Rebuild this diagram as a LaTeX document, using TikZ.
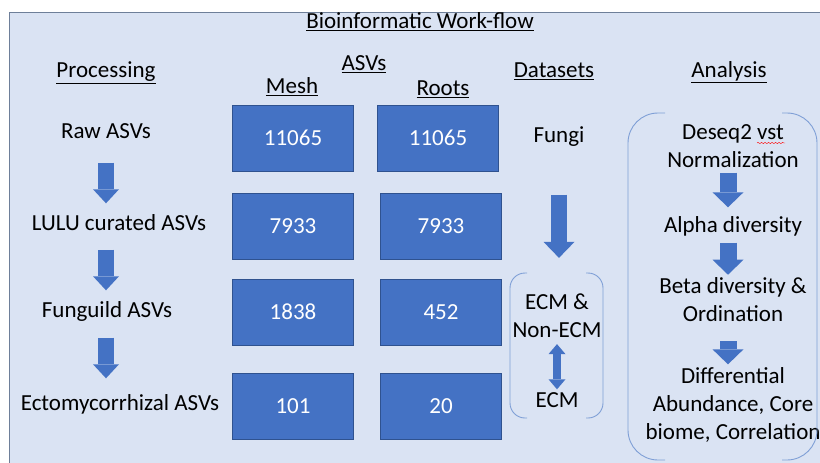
\documentclass[tikz,border=0pt]{standalone}
\usepackage{fontspec}
\setmainfont{Carlito}
\usetikzlibrary{arrows.meta, decorations.pathmorphing}

\definecolor{panelbg}{HTML}{DAE3F3}
\definecolor{panelline}{HTML}{6E7F99}
\definecolor{boxblue}{HTML}{4472C4}
\definecolor{boxline}{HTML}{2F528F}
\definecolor{bracketblue}{HTML}{7F9FD6}

\begin{document}
\begin{tikzpicture}[x=1pt, y=-1pt, font=\fontsize{23}{28}\selectfont,
    lbl/.style={inner sep=0pt, text height=16pt, text depth=5pt},
    multilbl/.style={inner sep=0pt, align=center},
    countbox/.style={draw=boxline, fill=boxblue, text=white, minimum width=121pt, minimum height=66pt, inner sep=0pt},
    procarrow/.style={draw=boxblue, line width=16pt, -{Triangle[width=26pt 0 0, length=14pt 0 0, line width=0pt]}},
    anaarrow/.style={draw=boxblue, line width=17pt, -{Triangle[width=31pt 0 0, length=15pt 0 0, line width=0pt]}},
    swaparrow/.style={draw=boxblue, line width=8pt, {Triangle[width=17pt 0 0, length=10pt 0 0, line width=0pt]}-{Triangle[width=17pt 0 0, length=10pt 0 0, line width=0pt]}},
    bracket/.style={draw=bracketblue, line width=0.9pt}]

    \useasboundingbox (0,0) rectangle (820,463);
    \clip (0,0) rectangle (820,463);
    \fill[white] (0,0) rectangle (820,463);
    \draw[panelline, fill=panelbg, line width=1pt] (9,12) rectangle (840,480);

    % headings
    \node[lbl] (title) at (420,23) {\underline{Bioinformatic Work-flow}};
    \node[lbl] (proc) at (106,72) {\underline{Processing}};
    \node[lbl] (asvs) at (364,65) {\underline{ASVs}};
    \node[lbl] (mesh) at (292,88) {\underline{Mesh}};
    \node[lbl] (roots) at (443,90) {\underline{Roots}};
    \node[lbl] (dsets) at (554,72) {\underline{Datasets}};
    \node[lbl] (anal) at (729,72) {\underline{Analysis}};

    % processing steps
    \node[lbl] (raw) at (106,133) {Raw ASVs};
    \node[lbl] (lulu) at (119,225) {LULU curated ASVs};
    \node[lbl] (fguild) at (107,312) {Funguild ASVs};
    \node[lbl] (ecto) at (120,405) {Ectomycorrhizal ASVs};

    \draw[procarrow, shorten <=19pt, shorten >=11pt] (raw.south) -- (raw.south |- lulu.north);
    \draw[procarrow, shorten <=14pt, shorten >=11pt] (raw.south |- lulu.south) -- (raw.south |- fguild.north);
    \draw[procarrow, shorten <=15pt, shorten >=16pt] (raw.south |- fguild.south) -- (raw.south |- ecto.north);

    % ASV counts
    \node[countbox] (m1) at (293,138) {11065};
    \node[countbox] (m2) at (293,226) {7933};
    \node[countbox] (m3) at (293,312) {1838};
    \node[countbox] (m4) at (293,406) {101};
    \node[countbox] (r1) at (438,138) {11065};
    \node[countbox] (r2) at (441,226) {7933};
    \node[countbox] (r3) at (441,312) {452};
    \node[countbox] (r4) at (441,406) {20};

    % datasets
    \node[lbl] (fungi) at (559,137) {Fungi};
    \node[multilbl] (ecmnon) at (557,316) {ECM \&\\Non-ECM};
    \node[lbl] (ecm) at (557,402) {ECM};

    \draw[procarrow, line width=16pt, -{Triangle[width=31pt 0 0, length=16pt 0 0, line width=0pt]}, shorten <=47pt, shorten >=36pt] (fungi.south) -- (fungi.south |- ecmnon.north);
    \draw[swaparrow, shorten <=6pt, shorten >=2pt] (ecmnon.south) -- (ecmnon.south |- ecm.north);

    \draw[bracket, rounded corners=15pt] (527,273) -- (510,273) -- (510,418) -- (527,418);
    \draw[bracket, rounded corners=15pt] (586,273) -- (603,273) -- (603,418) -- (586,418);

    % analysis
    \node[multilbl] (deseq) at (733,146) {Deseq2 vst\\Normalization};
    \node[lbl] (alpha) at (733,227) {Alpha diversity};
    \node[multilbl] (beta) at (733,300) {Beta diversity \&\\Ordination};
    \node[multilbl] (diff) at (733,405) {Differential\\Abundance, Core\\biome, Correlation};

    \draw[red, decorate, decoration={snake, amplitude=0.7pt, segment length=3.5pt}] (757,143) -- (785,143);

    \draw[anaarrow, shorten <=5pt, shorten >=9pt] (deseq.south -| 728,0) -- (alpha.north -| 728,0);
    \draw[anaarrow, shorten <=5pt, shorten >=3pt] (alpha.south -| 728,0) -- (beta.north -| 728,0);
    \draw[anaarrow, shorten <=19pt, shorten >=3pt] (beta.south -| 728,0) -- (diff.north -| 728,0);

    \draw[bracket, rounded corners=30pt] (665,113) -- (628,113) -- (628,460) -- (665,460);
    \draw[bracket, rounded corners=30pt] (782,113) -- (817,113) -- (817,460) -- (782,460);
\end{tikzpicture}
\end{document}
